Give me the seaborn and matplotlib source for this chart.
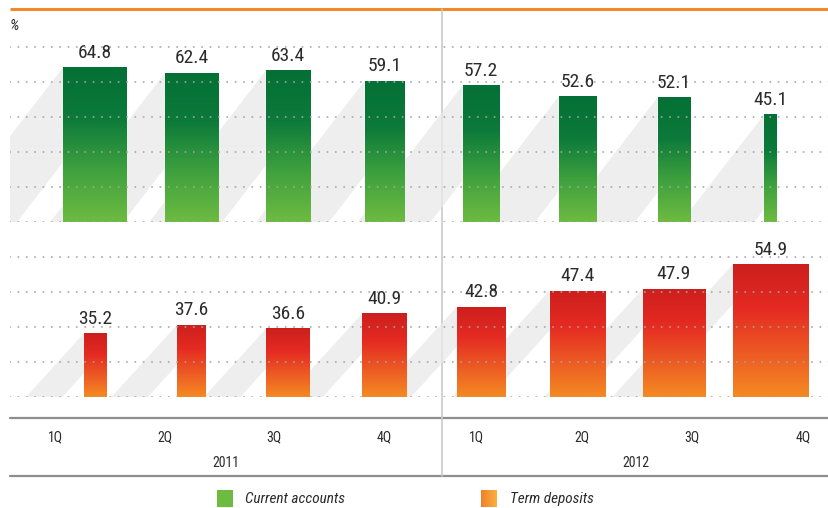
import numpy as np
import matplotlib
matplotlib.use("Agg")
import matplotlib.pyplot as plt
from matplotlib import font_manager
from matplotlib.colors import LinearSegmentedColormap
from matplotlib.patches import Polygon, Rectangle
import pandas as pd
import seaborn as sns

# data
quarters = ["1Q", "2Q", "3Q", "4Q", "1Q", "2Q", "3Q", "4Q"]
years = ["2011", "2012"]
current_accounts = [64.8, 62.4, 63.4, 59.1, 57.2, 52.6, 52.1, 45.1]
term_deposits = [35.2, 37.6, 36.6, 40.9, 42.8, 47.4, 47.9, 54.9]

# styling (bar widths in category units, decorative)
top_widths = [0.66, 0.55, 0.46, 0.41, 0.38, 0.39, 0.34, 0.13]
bot_widths = [0.23, 0.30, 0.45, 0.46, 0.50, 0.58, 0.65, 0.78]

sns.set_theme(style="white")
avail = {f.name for f in font_manager.fontManager.ttflist}
fam = next((f for f in ["Liberation Sans Narrow", "Roboto Condensed", "DejaVu Sans"] if f in avail), "DejaVu Sans")
plt.rcParams["font.family"] = [fam, "DejaVu Sans"]

W, H = 829, 508
fig = plt.figure(figsize=(W / 100, H / 100), dpi=100)

def frac(x0, y0, x1, y1):
    return [x0 / W, 1 - y1 / H, (x1 - x0) / W, (y1 - y0) / H]

# background axes in pixel coords for frame lines/labels
bg = fig.add_axes([0, 0, 1, 1])
bg.set_xlim(0, W)
bg.set_ylim(H, 0)
bg.axis("off")

px0, dpx = 95, 96.5  # pixel of first category and spacing
xl = ((10 - px0) / dpx, (W - px0) / dpx)

ax_top = fig.add_axes(frac(10, 30, W, 222))
ax_bot = fig.add_axes(frac(10, 240, W, 397))

green = LinearSegmentedColormap.from_list("g", ["#6dbb41", "#3fa13e", "#0c7a3a", "#047035"])
red = LinearSegmentedColormap.from_list("r", ["#f58a22", "#ec5a24", "#e52a22", "#cc1f1d"])

text_col = "#2b2b2b"

def draw(ax, vals, widths, ylim, ticks, cmap, ypx, slope, thick):
    df = pd.DataFrame({"q": range(len(vals)), "v": vals})
    sns.barplot(data=df, x="q", y="v", ax=ax, color="white", width=0.5, zorder=3)
    base = ylim[0]
    bars = []
    for p, w in zip(ax.patches, widths):
        c = p.get_x() + p.get_width() / 2
        p.set_x(c - w / 2)
        p.set_width(w)
        p.set_facecolor("none")
        p.set_edgecolor("none")
        bars.append((c - w / 2, c + w / 2, p.get_height()))
    grad = np.linspace(0, 1, 256).reshape(-1, 1)
    for (x0, x1, h), p in zip(bars, ax.patches):
        im = ax.imshow(grad, extent=[x0, x1, base, h], origin="lower", aspect="auto",
                       cmap=cmap, zorder=3)
        im.set_clip_path(p)
        ax.annotate(f"{h:.1f}", ((x0 + x1) / 2, h), xytext=(0, 4), textcoords="offset points",
                    ha="center", va="bottom", fontsize=14, color=text_col, zorder=5)
    # diagonal shadow stripes leading up to each bar's top-left corner
    for x0, x1, h in bars:
        hp = (h - base) * ypx
        xu = x0 - hp / (slope * dpx)
        if hp <= thick:
            poly = [(xu, base), (x0, h), (x0, base)]
        else:
            xlo = x0 - (hp - thick) / (slope * dpx)
            poly = [(xu, base), (x0, h), (x0, h - thick / ypx), (xlo, base)]
        ax.add_patch(Polygon(poly, closed=True, facecolor="#e9e9e9", edgecolor="none",
                             alpha=0.75, zorder=1))
    for t in ticks:
        ax.axhline(t, color="#a5a5a5", lw=1.5, ls=(0, (0.01, 4.0)), dash_capstyle="round",
                   zorder=4, alpha=0.85)
    ax.set_xlim(*xl)
    ax.set_ylim(*ylim)
    ax.axis("off")

# top: bars from 0 at 2.39 px/unit, grid every 35 px; bottom: 3.5 px/unit from 17
top_ypx = 2.39
draw(ax_top, current_accounts, top_widths, (0, 192 / top_ypx), np.arange(6) * 35 / top_ypx,
     green, top_ypx, 1.3, 95)
draw(ax_bot, term_deposits, bot_widths, (17, 17 + 157 / 3.5), [17, 27, 37, 47, 57],
     red, 3.5, 1.1, 40)

# frame lines
bg.plot([10, W], [9, 9], color="#f0892a", lw=2.2, solid_capstyle="butt")
bg.plot([10, W], [418, 418], color="#8e8e8e", lw=1.6)
bg.plot([10, W], [476, 476], color="#8e8e8e", lw=1.6)
bg.plot([442, 442], [9, 476], color="#c9c9c9", lw=1.2)
bg.text(10, 26, "%", fontsize=11, style="italic", color=text_col, va="center", ha="left")

q_px = [55, 165, 274, 384, 476, 582, 692, 803]
for q, x in zip(quarters, q_px):
    bg.text(x, 437, q, fontsize=10, color=text_col, ha="center", va="center")
for y, x in zip(years, [226, 636]):
    bg.text(x, 463, y, fontsize=10, color=text_col, ha="center", va="center")

# legend
bg.add_patch(Rectangle((217, 490), 16, 17, color="#6dbb41", lw=0))
bg.text(245, 499, "Current accounts", fontsize=11, style="italic", color=text_col, va="center")
leg_grad = np.linspace(0, 1, 64).reshape(1, -1)
bg.imshow(leg_grad, extent=[481, 497, 507, 490],
          cmap=LinearSegmentedColormap.from_list("o", ["#f0802a", "#fbb040"]), aspect="auto")
bg.text(510, 499, "Term deposits", fontsize=11, style="italic", color=text_col, va="center")
bg.set_xlim(0, W)
bg.set_ylim(H, 0)

fig.savefig("out.png", dpi=100)
